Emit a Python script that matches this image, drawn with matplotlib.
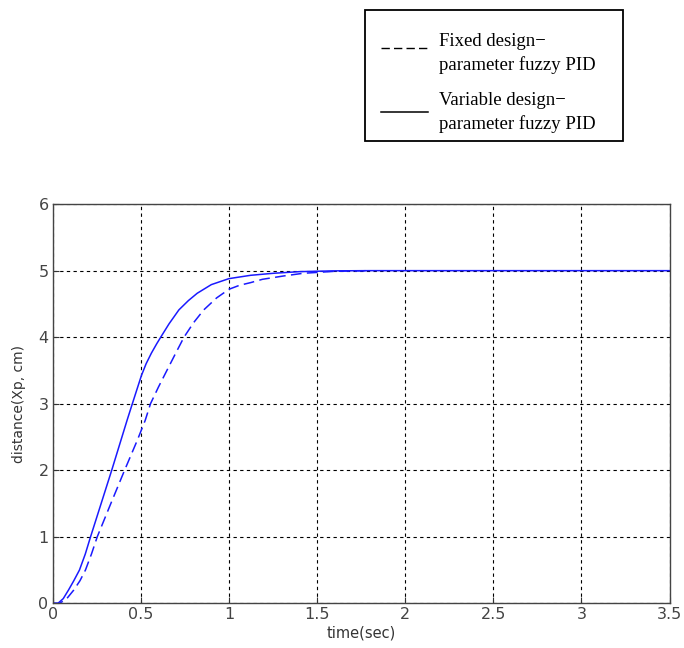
import matplotlib.pyplot as plt
from matplotlib.patches import Rectangle
from matplotlib.lines import Line2D

# 가변 설계 파라미터 퍼지 PID (solid)
t_var = [0, 0.03, 0.06, 0.09, 0.12, 0.152, 0.185, 0.215, 0.275, 0.335, 0.393,
         0.422, 0.452, 0.503, 0.53, 0.56, 0.59, 0.613, 0.66, 0.716, 0.77,
         0.82, 0.9, 1.0, 1.123, 1.25, 1.4, 1.6, 1.8, 2.0, 3.5]
y_var = [0, 0, 0.07, 0.2, 0.34, 0.5, 0.74, 1.0, 1.5, 2.0, 2.5,
         2.75, 3.0, 3.42, 3.6, 3.76, 3.9, 4.0, 4.2, 4.41, 4.55,
         4.66, 4.79, 4.88, 4.93, 4.96, 4.985, 4.997, 5.0, 5.0, 5.0]

# 고정 설계 파라미터 퍼지 PID (dashed)
t_fix = [0, 0.04, 0.08, 0.12, 0.155, 0.186, 0.22, 0.253, 0.33, 0.408, 0.48,
         0.525, 0.555, 0.6, 0.648, 0.7, 0.745, 0.8, 0.857, 0.93, 1.0, 1.06,
         1.123, 1.19, 1.31, 1.42, 1.6, 1.8]
y_fix = [0, 0, 0.07, 0.2, 0.34, 0.5, 0.74, 1.0, 1.5, 2.0, 2.45,
         2.75, 3.0, 3.25, 3.5, 3.77, 4.0, 4.22, 4.41, 4.59, 4.72, 4.78,
         4.82, 4.87, 4.92, 4.96, 4.99, 5.0]

x_ticks = [0, 0.5, 1, 1.5, 2, 2.5, 3, 3.5]
x_ticklabels = ['0', '0.5', '1', '1.5', '2', '2.5', '3', '3.5']
y_ticks = [0, 1, 2, 3, 4, 5, 6]

legend_labels = ['Fixed design\u2212\nparameter fuzzy PID',
                 'Variable design\u2212\nparameter fuzzy PID']

fig = plt.figure(figsize=(6.84, 6.48), dpi=100)
ax = fig.add_axes([0.077, 0.069, 0.902, 0.616])

ax.plot(t_fix, y_fix, color='#1a1aff', lw=1.1, dashes=(7, 3.5))
ax.plot(t_var, y_var, color='#1a1aff', lw=1.1)

ax.set_xlim(0, 3.5)
ax.set_ylim(0, 6)
ax.set_xticks(x_ticks)
ax.set_xticklabels(x_ticklabels)
ax.set_yticks(y_ticks)
ax.grid(True, color='black', linestyle=(0, (3, 3)), linewidth=0.8)
ax.tick_params(direction='in', length=4, labelsize=11.5, colors='#333333',
               labelcolor='#444444', pad=3)
for s in ax.spines.values():
    s.set_color('#444444')
    s.set_linewidth(1.0)

ax.set_xlabel('time(sec)', fontsize=10.5, color='#333333', labelpad=2)
ax.set_ylabel('distance(Xp, cm)', fontsize=10, color='#333333', labelpad=9)

# 범례 (축 밖, 오른쪽 위)
W, H = 684, 648
fig.patches.append(Rectangle((365 / W, 1 - 141 / H), 258 / W, 131 / H,
                             transform=fig.transFigure, fill=False,
                             edgecolor='black', linewidth=1.3))
fig.lines.append(Line2D([381 / W, 427 / W], [1 - 48 / H, 1 - 48 / H],
                        transform=fig.transFigure, color='black', lw=1.0,
                        dashes=(6, 3)))
fig.lines.append(Line2D([381 / W, 428 / W], [1 - 112 / H, 1 - 112 / H],
                        transform=fig.transFigure, color='black', lw=1.1))
for lab, yb in zip(legend_labels, [48, 107]):
    fig.text(439 / W, 1 - (yb - 15) / H, lab, fontsize=13.5,
             family='Liberation Serif', va='top', ha='left',
             linespacing=1.45)

fig.savefig('out.png', dpi=100)
